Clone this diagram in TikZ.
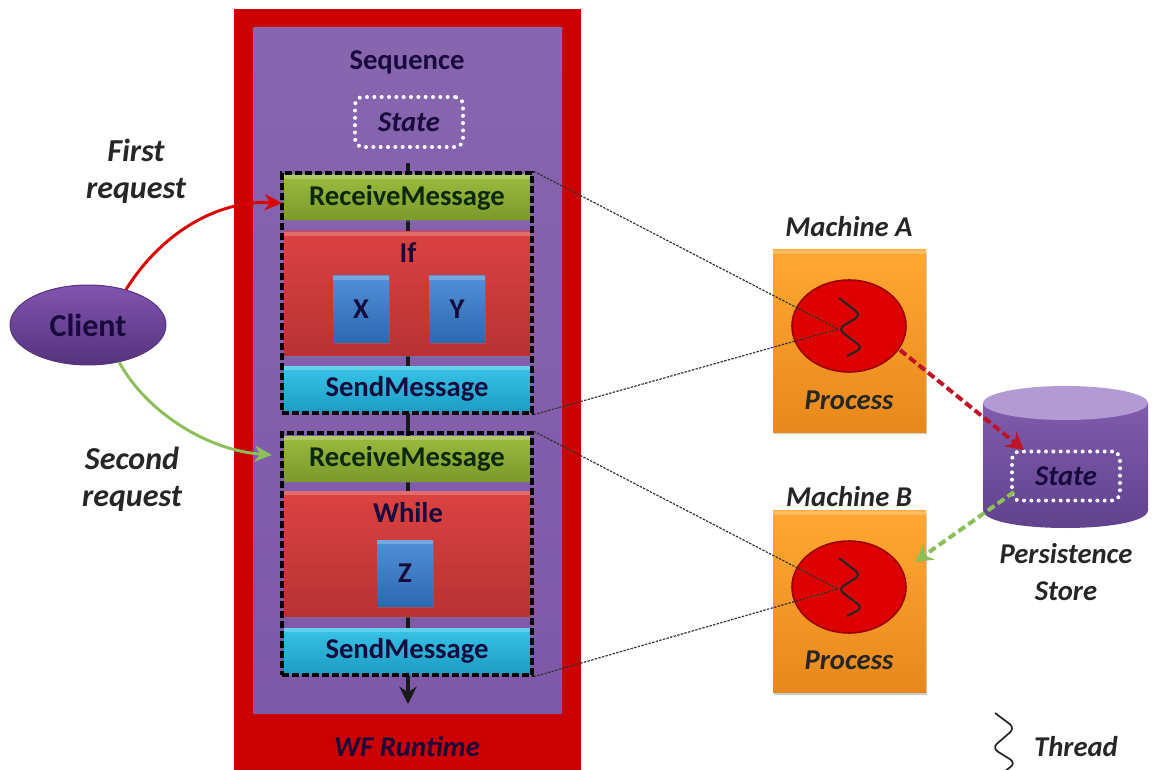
\documentclass[tikz,border=0pt]{standalone}
\usepackage{fontspec}
\setmainfont{Carlito}
\usetikzlibrary{arrows.meta,shapes.geometric,shadows}
\definecolor{navytext}{RGB}{24,10,60}
\definecolor{greentext}{RGB}{12,40,16}
\definecolor{runtimered}{RGB}{204,0,0}
\definecolor{seqpurple}{RGB}{126,88,168}
\definecolor{greenhi}{RGB}{155,187,62}
\definecolor{greenlo}{RGB}{122,153,44}
\definecolor{cyanhi}{RGB}{56,196,232}
\definecolor{cyanlo}{RGB}{28,156,196}
\definecolor{blockhi}{RGB}{220,66,66}
\definecolor{blocklo}{RGB}{184,50,50}
\definecolor{leafhi}{RGB}{80,144,216}
\definecolor{leaflo}{RGB}{46,104,176}
\definecolor{orangehi}{RGB}{255,168,50}
\definecolor{orangelo}{RGB}{232,136,28}
\definecolor{ballred}{RGB}{222,0,0}
\definecolor{clienthi}{RGB}{130,85,175}
\definecolor{clientlo}{RGB}{85,50,125}
\definecolor{storehi}{RGB}{128,92,172}
\definecolor{storelo}{RGB}{95,65,140}
\definecolor{storetop}{RGB}{178,155,212}
\definecolor{savered}{RGB}{190,20,40}
\definecolor{loadgreen}{RGB}{140,190,90}
\tikzset{every picture/.style={line width=0.75pt}}
\tikzset{
  sized/.style 2 args={inner sep=0pt,minimum width=#1*0.75pt,minimum height=#2*0.75pt},
  gloss/.style 2 args={top color=#1,bottom color=#2,drop shadow={shadow xshift=1pt,shadow yshift=-1.5pt,opacity=0.4},
    path picture={\fill[white,opacity=0.22] (path picture bounding box.north west) rectangle ([yshift=-3pt]path picture bounding box.north east);}},
  receivebox/.style={sized={246}{45},gloss={greenhi}{greenlo},font=\fontsize{21.5}{25}\selectfont\bfseries,text=greentext},
  sendbox/.style={sized={246}{46},gloss={cyanhi}{cyanlo},font=\fontsize{21.5}{25}\selectfont\bfseries,text=navytext},
  blockbox/.style={gloss={blockhi}{blocklo}},
  leafbox/.style={sized={56}{66},gloss={leafhi}{leaflo},font=\fontsize{21.5}{25}\selectfont\bfseries,text=navytext},
  machinebox/.style={sized={153}{182},gloss={orangehi}{orangelo}},
  processball/.style={ellipse,sized={114}{92},fill=ballred,draw=red!60!black,line width=1.2pt},
  statebox/.style={rounded corners=6pt,draw=white,line width=3pt,dash pattern=on 0pt off 5.5pt,line cap=round,font=\fontsize{21.5}{25}\selectfont\bfseries\itshape,text=navytext},
  groupbox/.style={sized={250}{#1},draw=black,line width=2.6pt,dash pattern=on 5pt off 2.5pt},
  plainlabel/.style={font=\fontsize{21.5}{25}\selectfont\bfseries,text=navytext},
  notelabel/.style={font=\fontsize{21.5}{28}\selectfont\bfseries\itshape,text=black!85,align=center},
  requestlabel/.style={font=\fontsize{24}{28}\selectfont\bfseries\itshape,text=black!85,align=center},
  threadline/.style={line width=1.6pt,rounded corners=5pt,black!85},
  calllink/.style={line width=0.9pt,dash pattern=on 1.8pt off 1pt,black!80},
}

\begin{document}
\begin{tikzpicture}[x=0.75pt,y=0.75pt,yscale=-1,xscale=1]
\useasboundingbox (0,0) rectangle (1154,770);

%Shape: Rectangle runtime and sequence
\fill [runtimered] (234,9) rectangle (581,770);
\shade [top color=seqpurple!92!white,middle color=seqpurple,bottom color=seqpurple] (253,28) rectangle (562,713);

%Straight Lines flow of the sequence
\coordinate (flowStart) at (408,163);
\coordinate (flowEnd) at (408,704);
\draw [line width=2.6pt,-{Stealth[length=13pt,width=13pt]},black!90] (flowStart) -- (flowEnd);

%Shape: State in sequence
\node [statebox,sized={108}{50}] (seqState) at (409,122) {State};

% first group
\node [receivebox] (receiveA) at (407,197.5) {ReceiveMessage};
\node [blockbox,sized={246}{123}] (ifBlock) at (407,293.5) {};
\node [leafbox] (leafX) at (361,309) {X};
\node [leafbox] (leafY) at (457,309) {Y};
\node [sendbox] (sendA) at (407,389) {SendMessage};

% second group
\node [receivebox] (receiveB) at (407,458.5) {ReceiveMessage};
\node [blockbox,sized={246}{125}] (whileBlock) at (407,553.5) {};
\node [leafbox] (leafZ) at (405,573) {Z};
\node [sendbox] (sendB) at (407,651) {SendMessage};

\node [groupbox={240}] (groupA) at (407,293) {};
\node [groupbox={242}] (groupB) at (407,554) {};

%Shape: Client
\node [ellipse,sized={156}{80},top color=clienthi,bottom color=clientlo,draw=clientlo,plainlabel,font=\fontsize{24}{28}\selectfont\bfseries] (client) at (88,325) {Client};

%Shape: Machines
\node [machinebox] (machineA) at (849.5,341) {};
\node [processball] (ballA) at (849,326) {};
\node [machinebox] (machineB) at (849.5,601.5) {};
\node [processball] (ballB) at (849,587) {};

%Thread shapes
\draw [threadline] (839,298) -- (861,315) -- (838,329) -- (863,348) -- (847,356);
\draw [threadline] (839,558) -- (861,575) -- (838,589) -- (863,608) -- (847,616);
\draw [threadline,line width=1.3pt] (995,713) -- (1015,728) -- (992,748) -- (1016,763) -- (1005,771);

\coordinate (threadA) at (838,329);
\coordinate (threadB) at (838,589);
\draw [calllink] (groupA.north east) -- (threadA);
\draw [calllink] (groupA.south east) -- (threadA);
\draw [calllink] (groupB.north east) -- (threadB);
\draw [calllink] (groupB.south east) -- (threadB);

%Shape: Persistence store
\shade [top color=storehi,bottom color=storelo] (983,403) -- (983,510) .. controls (983,534) and (1148,534) .. (1148,510) -- (1148,403) -- cycle ;
\node [ellipse,sized={165}{34},fill=storetop] (storeTop) at (1065.5,403) {};
\node [statebox,sized={108}{49}] (storeState) at (1066,476) {State};

%Curve Lines requests
\coordinate (firstIn) at (282,203);
\coordinate (secondIn) at (272,455);
\draw [line width=2.2pt,red!85!black,-{Stealth[length=13pt,width=12pt]}] (client.43) .. controls (160,235) and (215,200) .. (firstIn);
\draw [line width=2.2pt,loadgreen,-{Stealth[length=13pt,width=12pt]}] (client.-50) .. controls (145,410) and (205,450) .. (secondIn);

%Dashed saving and loading
\coordinate (saveIn) at (1024,450);
\coordinate (loadIn) at (915,562);
\coordinate (saveOut) at (900,350);
\coordinate (loadOut) at (1014,492);
\draw [line width=3pt,dash pattern=on 6pt off 3pt,savered,-{Stealth[length=13pt,width=14pt]}] (saveOut) -- (saveIn);
\draw [line width=3pt,dash pattern=on 6pt off 3pt,loadgreen,-{Stealth[length=13pt,width=14pt]}] (loadOut) -- (loadIn);

% Text Node
\node [plainlabel] (seqLabel) at (407,62) {Sequence};
% Text Node
\node [plainlabel] (ifLabel) at (408,253) {If};
% Text Node
\node [plainlabel] (whileLabel) at (408,513) {While};
% Text Node
\node [notelabel,text=navytext] (runtimeLabel) at (407,747) {WF Runtime};
% Text Node
\node [requestlabel] (firstLabel) at (136,171) {First\\request};
% Text Node
\node [requestlabel] (secondLabel) at (132,479) {Second\\request};
% Text Node
\node [notelabel] (machineALabel) at (849,227) {Machine A};
% Text Node
\node [notelabel] (machineBLabel) at (849,497) {Machine B};
% Text Node
\node [notelabel] (processALabel) at (849,400) {Process};
% Text Node
\node [notelabel] (processBLabel) at (849,660) {Process};
% Text Node
\node [notelabel] (storeLabel) at (1066,572) {Persistence\\Store};
% Text Node
\node [notelabel] (threadLabel) at (1076,747) {Thread};

\end{tikzpicture}
\end{document}
